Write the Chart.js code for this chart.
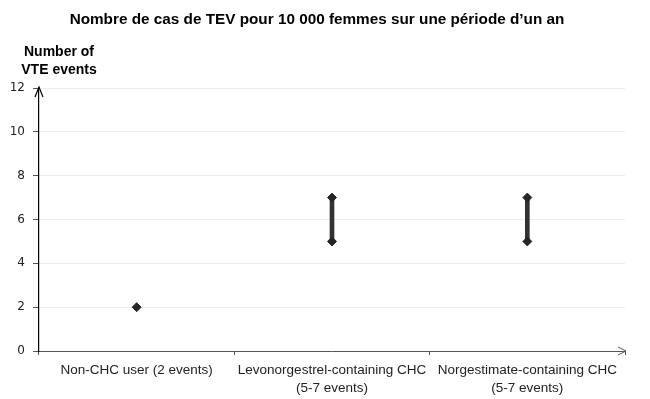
<!DOCTYPE html>
<html>
<head>
<meta charset="utf-8">
<script src="https://cdn.jsdelivr.net/npm/chart.js@4"></script>
<style>
  html, body { margin: 0; padding: 0; background: #fff; }
  #wrap { width: 650px; height: 399px; }
</style>
</head>
<body>
<div id="wrap"><canvas id="vte-chart"></canvas></div>
<script>
// categories et valeurs
const categories = [
    ['Non-CHC user (2 events)'],
    ['Levonorgestrel-containing CHC', '(5-7 events)'],
    ['Norgestimate-containing CHC', '(5-7 events)']
];
const lowValues = [2, 5, 5];
const highValues = [null, 7, 7];
const rangeValues = [null, [5, 7], [5, 7]];
const yTicks = [0, 2, 4, 6, 8, 10, 12];

const titleText = 'Nombre de cas de TEV pour 10 000 femmes sur une période d\u2019un an';
const yTitleLines = ['Number of', 'VTE events'];

// titres + flèches au bout des axes
const decorations = {
    id: 'decorations',
    afterDraw(chart) {
        const c = chart.ctx;
        const x = chart.scales.x;
        const y = chart.scales.y;
        c.save();
        c.fillStyle = '#000';
        c.textAlign = 'center';
        c.textBaseline = 'middle';
        c.font = 'bold 15.3px "Liberation Sans", Arial, sans-serif';
        c.fillText(titleText, 317, 20);
        c.font = 'bold 14px "Liberation Sans", Arial, sans-serif';
        c.fillText(yTitleLines[0], 59, 52);
        c.fillText(yTitleLines[1], 59, 70);

        const left = x.left, bottom = y.bottom;
        c.strokeStyle = '#000';
        c.lineWidth = 1.2;
        c.beginPath();
        c.moveTo(left - 4, y.top + 9);
        c.lineTo(left, y.top - 1);
        c.lineTo(left + 4, y.top + 9);
        c.stroke();
        c.strokeStyle = '#555';
        c.lineWidth = 1;
        c.beginPath();
        c.moveTo(x.right - 7, bottom - 4);
        c.lineTo(x.right + 1, bottom);
        c.lineTo(x.right - 7, bottom + 4);
        c.stroke();
        c.restore();
    }
};

const ctx = document.getElementById('vte-chart').getContext('2d');
const vteChart = new Chart(ctx, {
    data: {
        labels: categories,
        datasets: [{
            type: 'bar',
            data: rangeValues,
            backgroundColor: '#333',
            barThickness: 4,
            order: 2
        }, {
            type: 'line',
            data: lowValues,
            showLine: false,
            pointStyle: 'rectRot',
            pointRadius: 4.5,
            pointBackgroundColor: '#262626',
            pointBorderColor: '#262626',
            order: 1
        }, {
            type: 'line',
            data: highValues,
            showLine: false,
            pointStyle: 'rectRot',
            pointRadius: 4.5,
            pointBackgroundColor: '#262626',
            pointBorderColor: '#262626',
            order: 1
        }]
    },
    options: {
        responsive: true,
        maintainAspectRatio: false,
        animation: false,
        layout: { padding: { left: 0, right: 25, top: 88, bottom: 0 } },
        plugins: {
            legend: { display: false },
            tooltip: { enabled: false }
        },
        scales: {
            x: {
                offset: true,
                grid: {
                    offset: true,
                    drawOnChartArea: false,
                    tickColor: '#555',
                    tickLength: 4
                },
                border: { color: '#555' },
                ticks: {
                    color: '#222',
                    maxRotation: 0,
                    padding: 7,
                    font: { family: '"Liberation Sans", Arial, sans-serif', size: 13.5, lineHeight: 1.3 }
                },
                afterFit(scale) { scale.height = 48; }
            },
            y: {
                min: 0,
                max: 12,
                afterBuildTicks(scale) { scale.ticks = yTicks.map(v => ({ value: v })); },
                grid: {
                    color: '#ececec',
                    tickColor: '#555',
                    tickLength: 6
                },
                border: { color: '#000', width: 1.2 },
                ticks: {
                    color: '#222',
                    padding: 8,
                    font: { family: '"DejaVu Sans", Verdana, sans-serif', size: 12 }
                },
                afterFit(scale) { scale.width = 39; }
            }
        }
    },
    plugins: [decorations]
});
</script>
</body>
</html>
